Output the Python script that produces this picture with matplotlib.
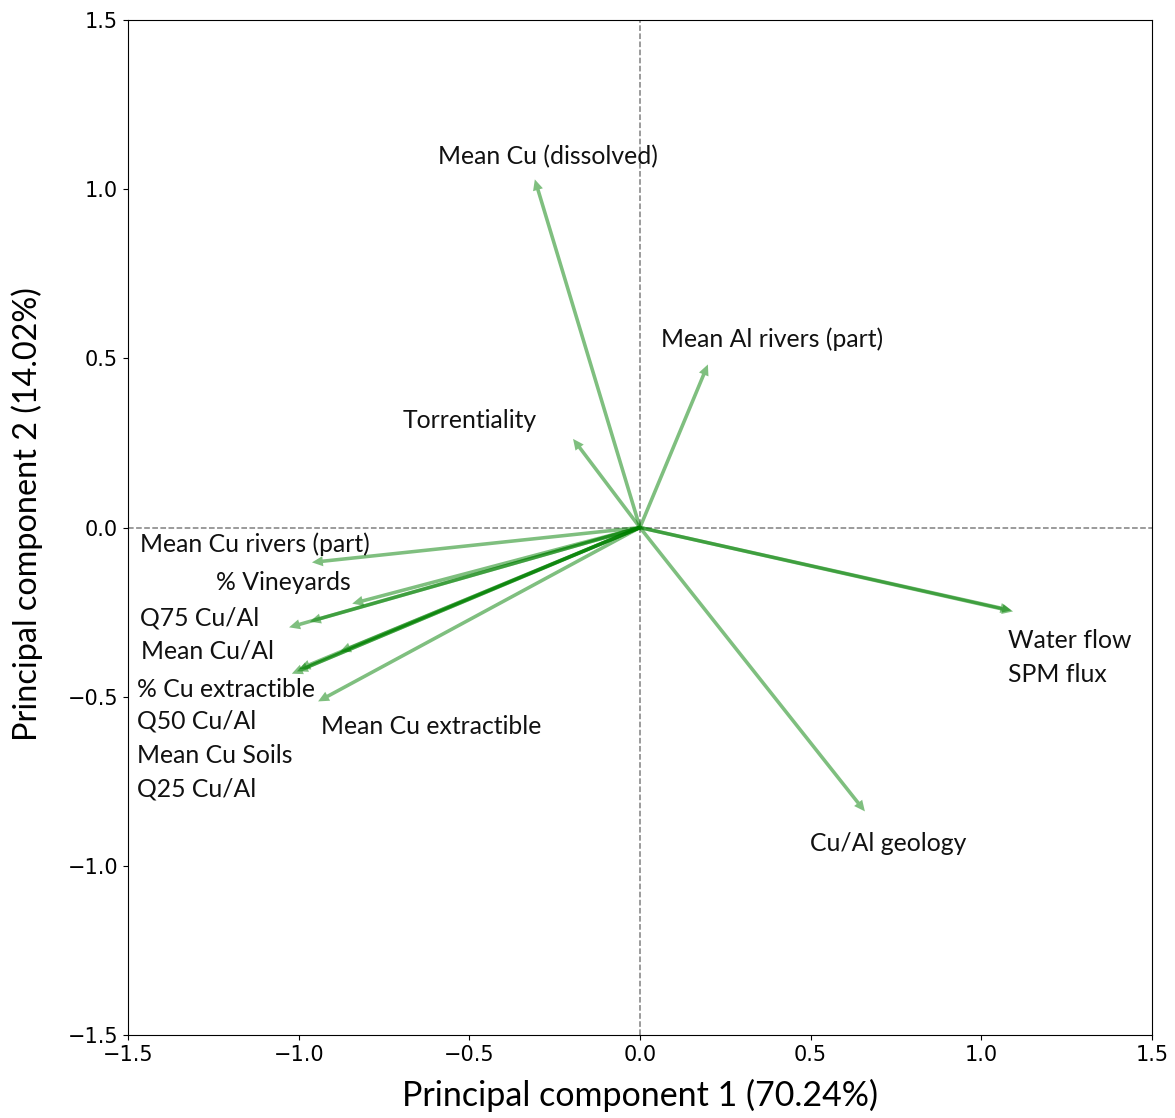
import matplotlib
matplotlib.use("Agg")
import matplotlib.pyplot as plt
import numpy as np

# Loadings (PC1, PC2)
variables = ["Mean Cu (dissolved)", "Mean Al rivers (part)", "Torrentiality",
             "Mean Cu rivers (part)", "% Vineyards", "Q75 Cu/Al", "Mean Cu/Al",
             "% Cu extractible", "Q50 Cu/Al", "Mean Cu Soils", "Q25 Cu/Al",
             "Mean Cu extractible", "Water flow", "SPM flux", "Cu/Al geology"]
pc1 = [-0.308, 0.199, -0.196,
       -0.961, -0.843, -1.028, -0.967,
       -1.020, -1.005, -0.879, -0.998,
       -0.943, 1.093, 1.088, 0.659]
pc2 = [1.029, 0.482, 0.262,
       -0.103, -0.225, -0.295, -0.278,
       -0.432, -0.425, -0.367, -0.418,
       -0.514, -0.248, -0.245, -0.839]

# Label placement (data coordinates) and alignment
label_pos = {
    "Mean Cu (dissolved)": (-0.270, 1.097, "center"),
    "Mean Al rivers (part)": (0.062, 0.556, "left"),
    "Torrentiality": (-0.694, 0.316, "left"),
    "Mean Cu rivers (part)": (-1.465, -0.050, "left"),
    "% Vineyards": (-1.242, -0.163, "left"),
    "Q75 Cu/Al": (-1.465, -0.266, "left"),
    "Mean Cu/Al": (-1.462, -0.364, "left"),
    "% Cu extractible": (-1.474, -0.479, "left"),
    "Q50 Cu/Al": (-1.474, -0.573, "left"),
    "Mean Cu Soils": (-1.474, -0.674, "left"),
    "Q25 Cu/Al": (-1.474, -0.772, "left"),
    "Mean Cu extractible": (-0.935, -0.588, "left"),
    "Water flow": (1.078, -0.334, "left"),
    "SPM flux": (1.078, -0.435, "left"),
    "Cu/Al geology": (0.498, -0.934, "left"),
}

fig = plt.figure(figsize=(11.75, 11.18), dpi=100)
ax = fig.add_axes([0.1089, 0.0742, 0.8715, 0.9079])

ax.axhline(0, color="gray", linestyle="--", linewidth=1.1, zorder=1)
ax.axvline(0, color="gray", linestyle="--", linewidth=1.1, zorder=1)

for name, x, y in zip(variables, pc1, pc2):
    ax.arrow(0, 0, x, y, color="green", alpha=0.5, width=0.0105,
             head_width=0.03, head_length=0.032, length_includes_head=True,
             linewidth=0, zorder=2)
    lx, ly, ha = label_pos[name]
    ax.text(lx, ly, name, ha=ha, va="center", fontsize=17.8, family="Lato",
            color="#111111", zorder=3)

ax.set_xlim(-1.5, 1.5)
ax.set_ylim(-1.5, 1.5)
ax.set_xticks(np.arange(-1.5, 1.51, 0.5))
ax.set_yticks(np.arange(-1.5, 1.51, 0.5))
ax.tick_params(labelsize=15)
ax.set_xlabel("Principal component 1 (70.24%)", fontsize=24.5, family="Lato", labelpad=10)
ax.set_ylabel("Principal component 2 (14.02%)", fontsize=23.3, family="Lato", labelpad=14)
ax.yaxis.set_label_coords(-0.083, 0.513)

fig.savefig("out.png", dpi=100)
